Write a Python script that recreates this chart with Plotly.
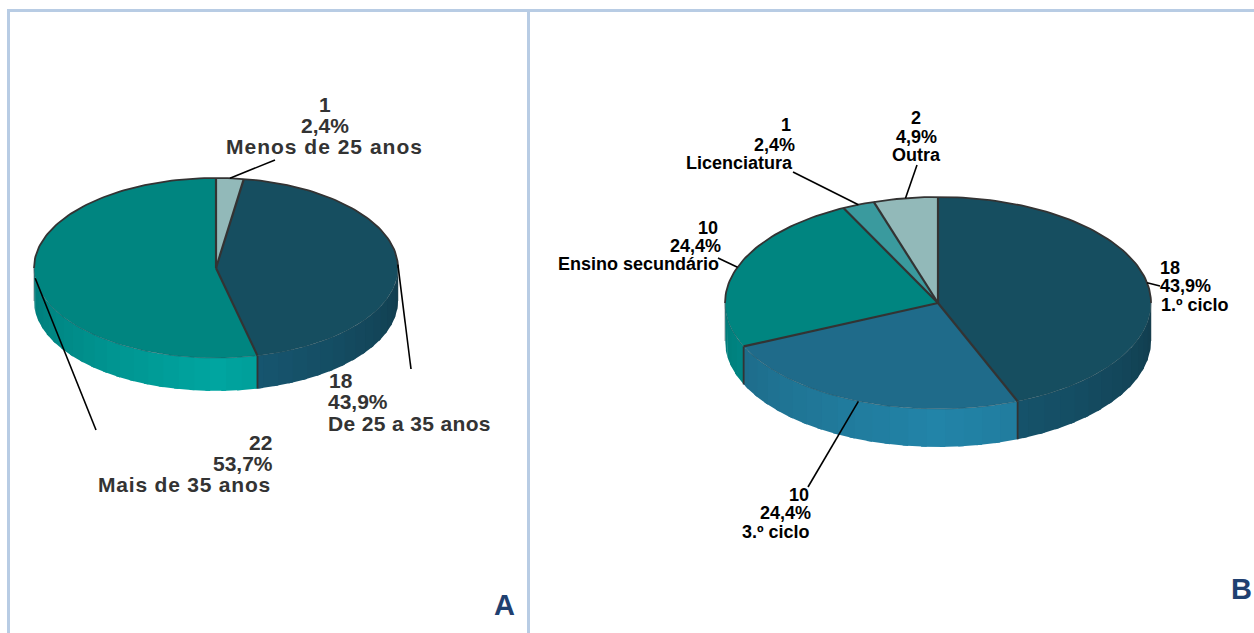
import math
import plotly.graph_objects as go

# Panel A: age groups
age_categories = ["Menos de 25 anos", "De 25 a 35 anos", "Mais de 35 anos"]
age_values = [1, 18, 22]

# Panel B: education level
edu_categories = ["1.º ciclo", "3.º ciclo", "Ensino secundário", "Licenciatura", "Outra"]
edu_values = [18, 10, 10, 1, 2]

# Slice colours: top face, side (far from front), side (front-most)
age_colors = [
    ("#92b9b9", "#92b9b9", "#92b9b9"),
    ("#164e60", "#113c4c", "#175a75"),
    ("#008580", "#007a78", "#00a5a0"),
]
edu_colors = [
    ("#164e60", "#113c4c", "#175a75"),
    ("#1f6b8a", "#1c6480", "#2284a8"),
    ("#008580", "#007a78", "#00a5a0"),
    ("#3a9a9e", "#3a9a9e", "#3a9a9e"),
    ("#92b9b9", "#92b9b9", "#92b9b9"),
]

EDGE = "#333333"
PANEL = "#b8cce4"


def lerp_hex(a, b, t):
    pa = [int(a[i:i + 2], 16) for i in (1, 3, 5)]
    pb = [int(b[i:i + 2], 16) for i in (1, 3, 5)]
    return "#" + "".join(f"{round(p + (q - p) * t):02x}" for p, q in zip(pa, pb))


def arc_range(start, end, step=1.5):
    n = max(2, int(abs(end - start) / step) + 2)
    return [start + (end - start) * i / (n - 1) for i in range(n)]


def draw_pie(fig, values, colors, cx, cy, rx, ry, depth, edge_w, band=5.0):
    def pt(deg, drop=0.0):
        r = math.radians(deg)
        return cx + rx * math.sin(r), cy - ry * math.cos(r) + drop

    total = sum(values)
    bounds = [0.0]
    for v in values:
        bounds.append(bounds[-1] + v / total * 360)

    def add_poly(points, color):
        fig.add_trace(go.Scatter(
            x=[p[0] for p in points], y=[p[1] for p in points], mode="lines",
            fill="toself", fillcolor=color, line=dict(width=0),
            hoverinfo="skip", showlegend=False))

    def add_line(points, width, color=EDGE):
        fig.add_trace(go.Scatter(
            x=[p[0] for p in points], y=[p[1] for p in points], mode="lines",
            line=dict(color=color, width=width), hoverinfo="skip", showlegend=False))

    # Side wall: narrow vertical bands, brightest at the front of the disc.
    # Each band runs under the next one so no gap shows between them.
    for i, (a0, a1) in enumerate(zip(bounds, bounds[1:])):
        lo, hi = max(a0, 90.0), min(a1, 270.0)
        if hi <= lo:
            continue
        a = lo
        while a < hi - 1e-6:
            b = min(a + band, hi)
            shade = 1 - abs((a + b) / 2 - 180) / 90
            color = lerp_hex(colors[i][1], colors[i][2], shade)
            arc = arc_range(a, min(b + 1.5, hi))
            add_poly([pt(t) for t in arc] + [pt(t, depth) for t in reversed(arc)], color)
            a = b

    # Top face
    for i, (a0, a1) in enumerate(zip(bounds, bounds[1:])):
        add_poly([(cx, cy)] + [pt(t) for t in arc_range(a0, a1)], colors[i][0])

    # Rim: strong on the back half, faint along the front
    add_line([pt(t) for t in arc_range(-90, 90)], edge_w)
    add_line([pt(t) for t in arc_range(90, 270)], 0.4, "#2c4a50")
    add_line([pt(270), pt(270, depth)], 0.5, "#2c4a50")
    add_line([pt(90), pt(90, depth)], 0.5, "#2c4a50")

    # Slice separators, continued down the wall where they reach the front
    for b in bounds[:-1]:
        add_line([(cx, cy), pt(b)], edge_w + 0.4)
        if 90 < b < 270:
            add_line([pt(b), pt(b, depth)], edge_w)

    return bounds, pt


def leaders(fig, bounds, pt, ends):
    for i, end in enumerate(ends):
        mid = (bounds[i] + bounds[i + 1]) / 2
        sx, sy = pt(mid)
        fig.add_trace(go.Scatter(
            x=[sx, end[0]], y=[sy, end[1]], mode="lines",
            line=dict(color="#000000", width=1.6), hoverinfo="skip", showlegend=False))


def label(fig, value, total, name, xs, ys, anchor, size, color, tracking=0.0):
    pct = f"{value / total * 100:.1f}%".replace(".", ",")
    for j, (line, x, y) in enumerate(zip((str(value), pct, name), xs, ys)):
        text = f"<b>{line}</b>"
        if tracking and j == 2:
            text = f'<span style="letter-spacing:{tracking}px">{text}</span>'
        fig.add_annotation(
            x=x, y=y, text=text, showarrow=False, xanchor=anchor, yanchor="middle",
            font=dict(family="Liberation Sans", size=size, color=color))


fig = go.Figure()

bounds_a, pt_a = draw_pie(fig, age_values, age_colors, 216, 268, 182, 90, 33, 1.8)
leaders(fig, bounds_a, pt_a, [(275, 160), (411, 369), (96, 430)])

bounds_b, pt_b = draw_pie(fig, edu_values, edu_colors, 938, 303, 213, 106, 38, 1.8)
leaders(fig, bounds_b, pt_b,
        [(1160, 286), (808, 487), (718, 258), (793, 172), (917, 165)])

A_SIZE = 21
B_SIZE = 18
total_a = sum(age_values)
total_b = sum(edu_values)
label(fig, age_values[0], total_a, age_categories[0], (325, 325, 324), (104, 125, 146), "center", A_SIZE, "#333333", 1.0)
label(fig, age_values[1], total_a, age_categories[1], (327, 326, 326), (380, 401, 423), "left", A_SIZE, "#333333", 0.35)
label(fig, age_values[2], total_a, age_categories[2], (274, 275, 273), (442, 463, 484), "right", A_SIZE, "#333333", 0.8)
label(fig, edu_values[0], total_b, edu_categories[0], (1158, 1158, 1159), (268, 286, 305), "left", B_SIZE, "#000000")
label(fig, edu_values[1], total_b, edu_categories[1], (811, 813, 812), (495, 513, 532), "right", B_SIZE, "#000000")
label(fig, edu_values[2], total_b, edu_categories[2], (720, 723, 721), (228, 246, 264), "right", B_SIZE, "#000000")
label(fig, edu_values[3], total_b, edu_categories[3], (793, 797, 795), (125, 145, 163), "right", B_SIZE, "#000000")
label(fig, edu_values[4], total_b, edu_categories[4], (916, 916, 916), (118, 137, 155), "center", B_SIZE, "#000000")

# Panel letters
for letter, x, y in (("A", 504, 605), ("B", 1241, 589)):
    fig.add_annotation(x=x, y=y, text=f"<b>{letter}</b>", showarrow=False,
                       font=dict(family="Liberation Sans", size=29, color="#1f4070"))

# Panel frame
for x0, y0, x1, y1 in ((7, 10.5, 1254, 10.5), (8.5, 10, 8.5, 633), (528.5, 10, 528.5, 633)):
    fig.add_shape(type="line", x0=x0, y0=y0, x1=x1, y1=y1, layer="below",
                  line=dict(color=PANEL, width=3))

fig.update_layout(
    width=1254, height=633, margin=dict(l=0, r=0, t=0, b=0),
    paper_bgcolor="#ffffff", plot_bgcolor="#ffffff", showlegend=False,
    xaxis=dict(range=[0, 1254], visible=False, fixedrange=True),
    yaxis=dict(range=[633, 0], visible=False, fixedrange=True),
)

fig.write_html("out.html", config={"displayModeBar": False})
